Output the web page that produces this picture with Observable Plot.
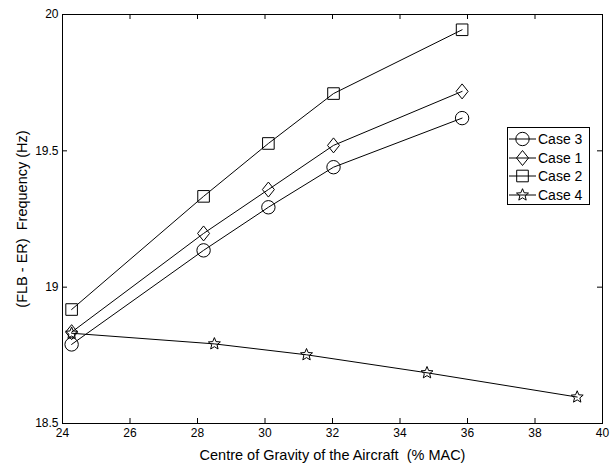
<!DOCTYPE html>
<html>
<head>
<meta charset="utf-8">
<script src="https://cdn.jsdelivr.net/npm/d3@7"></script>
<script src="https://cdn.jsdelivr.net/npm/@observablehq/plot@0.6"></script>
<style>
  html, body { margin: 0; padding: 0; background: #fff; }
  #wrap { position: relative; width: 616px; height: 468px; font-family: "Liberation Sans", Arial, sans-serif; }
  svg text { white-space: pre; }
  #legend { position: absolute; left: 507px; top: 127px; width: 83px; height: 78px; border: 1px solid #000; background: #fff; box-sizing: border-box; padding-top: 2px; }
  .row { display: flex; align-items: center; height: 18.6px; font-size: 14px; color: #000; }
  .row svg { flex: none; }
</style>
</head>
<body>
<div id="wrap"></div>
<script>
// Data
const cg = [24.27, 28.18, 30.1, 32.03, 35.84];
const case3 = [18.79, 19.135, 19.293, 19.44, 19.62];
const case1 = [18.835, 19.197, 19.358, 19.52, 19.718];
const case2 = [18.918, 19.333, 19.527, 19.71, 19.944];
const cg4 = [24.27, 28.5, 31.23, 34.8, 39.25];
const case4 = [18.831, 18.792, 18.752, 18.686, 18.597];

const seriesNames = ["Case 3", "Case 1", "Case 2", "Case 4"];
const xTicks = [24, 26, 28, 30, 32, 34, 36, 38, 40];
const yTicks = [18.5, 19, 19.5, 20];
const xLabel = "Centre of Gravity of the Aircraft  (% MAC)";
const yLabel = "(FLB - ER)  Frequency (Hz)";

// Marker shapes (MATLAB-like, hollow)
const circleSym = {draw(c) { c.moveTo(6.7, 0); c.arc(0, 0, 6.7, 0, 2 * Math.PI); c.closePath(); }};
const diamondSym = {draw(c) { c.moveTo(0, -7.5); c.lineTo(6, 0); c.lineTo(0, 7.5); c.lineTo(-6, 0); c.closePath(); }};
const squareSym = {draw(c) { c.moveTo(-5.8, -5.8); c.lineTo(5.8, -5.8); c.lineTo(5.8, 5.8); c.lineTo(-5.8, 5.8); c.closePath(); }};
const starSym = {draw(c) {
  const R = 6.3, r = 2.8;
  for (let k = 0; k < 10; k++) {
    const a = -Math.PI / 2 + k * Math.PI / 5;
    const rad = k % 2 ? r : R;
    const px = rad * Math.cos(a), py = rad * Math.sin(a);
    k ? c.lineTo(px, py) : c.moveTo(px, py);
  }
  c.closePath();
}};
const seriesSymbols = [circleSym, diamondSym, squareSym, starSym];

const rows = [];
[[cg, case3], [cg, case1], [cg, case2], [cg4, case4]].forEach(([xs, ys], i) => {
  xs.forEach((x, j) => rows.push({series: seriesNames[i], x, y: ys[j]}));
});

const W = 616, H = 468, mL = 62, mR = 14, mT = 14, mB = 45;
const fw = W - mL - mR, fh = H - mT - mB, tl = 5;

const marks = [
  Plot.frame({stroke: "#000"}),
  // inward tick marks on all four sides
  Plot.tickX(xTicks, {x: d => d, stroke: "#000", insetTop: fh - tl}),
  Plot.tickX(xTicks, {x: d => d, stroke: "#000", insetBottom: fh - tl}),
  Plot.tickY(yTicks, {y: d => d, stroke: "#000", insetRight: fw - tl}),
  Plot.tickY(yTicks, {y: d => d, stroke: "#000", insetLeft: fw - tl}),
  Plot.axisX({anchor: "bottom", ticks: xTicks, tickSize: 0, tickPadding: 5, label: null, fontSize: 12}),
  Plot.axisY({anchor: "left", ticks: yTicks, tickSize: 0, tickPadding: 4, label: null, tickFormat: d => String(d), fontSize: 12}),
  Plot.lineY(rows, {x: "x", y: "y", z: "series", stroke: "#000", strokeWidth: 1})
];
seriesNames.forEach((name, i) => {
  marks.push(Plot.dot(rows.filter(d => d.series === name), {x: "x", y: "y", symbol: () => seriesSymbols[i], r: 4, stroke: "#000", fill: "none", strokeWidth: 1}));
});
marks.push(Plot.text([xLabel], {frameAnchor: "bottom", dy: 36, fontSize: 14.5, fill: "#000"}));
marks.push(Plot.text([yLabel], {frameAnchor: "left", textAnchor: "middle", dx: -40, rotate: -90, fontSize: 14.5, fill: "#000"}));

const chart = Plot.plot({
  width: W,
  height: H,
  marginLeft: mL,
  marginRight: mR,
  marginTop: mT,
  marginBottom: mB,
  style: {fontFamily: "'Liberation Sans', Arial, sans-serif", fontSize: "12px", color: "#000", background: "#fff"},
  x: {domain: [24, 40]},
  y: {domain: [18.5, 20]},
  symbol: {domain: seriesSymbols, range: seriesSymbols},
  marks
});
const wrap = document.getElementById("wrap");
wrap.appendChild(chart);

// Legend box
const legend = document.createElement("div");
legend.id = "legend";
seriesNames.forEach((name, i) => {
  const row = document.createElement("div");
  row.className = "row";
  const s = d3.create("svg").attr("width", 30).attr("height", 18);
  s.append("line").attr("x1", 1).attr("x2", 28).attr("y1", 9).attr("y2", 9).attr("stroke", "#000");
  const p = d3.path();
  seriesSymbols[i].draw(p);
  s.append("path").attr("transform", "translate(14.5,9)").attr("d", p.toString()).attr("fill", "none").attr("stroke", "#000");
  row.appendChild(s.node());
  const t = document.createElement("span");
  t.textContent = name;
  row.appendChild(t);
  legend.appendChild(row);
});
wrap.appendChild(legend);
</script>
</body>
</html>
